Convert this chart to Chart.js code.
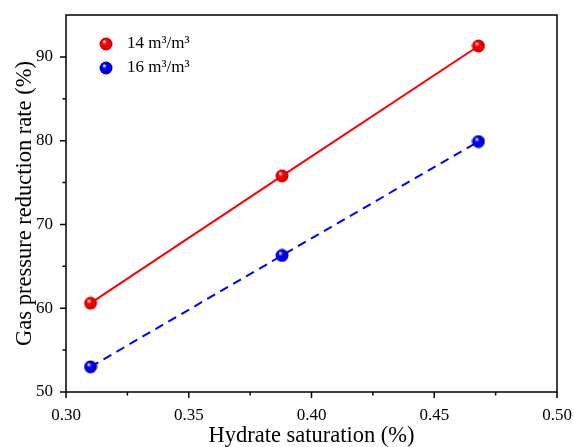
<!DOCTYPE html>
<html>
<head>
<meta charset="utf-8">
<script src="https://cdn.jsdelivr.net/npm/chart.js@4.4.1/dist/chart.umd.min.js"></script>
<style>
html,body{margin:0;padding:0;background:#fff;}
</style>
</head>
<body>
<canvas id="chart" width="574" height="447"></canvas>
<script>
// data
const saturation = [0.310, 0.388, 0.468];
const rate14 = [60.6, 75.8, 91.3];
const rate16 = [53.0, 66.3, 79.9];
const seriesNames = ["14 m³/m³", "16 m³/m³"];
const xRange = [0.30, 0.50];
const yRange = [50, 95];

const FONT = "'Liberation Serif', 'Times New Roman', serif";

// little shaded ball used as marker
function ball(base, dark){
    const c = document.createElement("canvas");
    c.width = c.height = 14;
    const g = c.getContext("2d");
    const grad = g.createRadialGradient(5, 4.5, 0.3, 7, 7, 7);
    grad.addColorStop(0, "#ffffff");
    grad.addColorStop(0.3, base);
    grad.addColorStop(1, dark);
    g.fillStyle = grad;
    g.beginPath();
    g.arc(7, 7, 6.5, 0, Math.PI * 2);
    g.fill();
    return c;
}
const redBall = ball("#ff0000", "#c80000");
const blueBall = ball("#0000ff", "#0000b4");

function toPoints(xs, ys){
    return xs.map((x, i) => ({x: x, y: ys[i]}));
}

function isMajorX(v){ return Math.abs(v * 20 - Math.round(v * 20)) < 1e-6; }
function isMajorY(v){ return Math.abs(v % 10) < 1e-6; }

// frame, outward ticks and legend
const framePlugin = {
    id: "frame",
    afterDraw(chart){
        const ctx = chart.ctx;
        const a = chart.chartArea;
        const xs = chart.scales.x, ys = chart.scales.y;
        ctx.save();
        ctx.strokeStyle = "#000";
        ctx.lineWidth = 1.5;
        ctx.strokeRect(a.left, a.top, a.right - a.left, a.bottom - a.top);
        ctx.beginPath();
        xs.ticks.forEach(t => {
            const px = xs.getPixelForValue(t.value);
            const len = isMajorX(t.value) ? 6 : 3.5;
            ctx.moveTo(px, a.bottom);
            ctx.lineTo(px, a.bottom + len);
        });
        ys.ticks.forEach(t => {
            if (t.value >= yRange[1]) return;
            const py = ys.getPixelForValue(t.value);
            const len = isMajorY(t.value) ? 6 : 3.5;
            ctx.moveTo(a.left, py);
            ctx.lineTo(a.left - len, py);
        });
        ctx.stroke();

        // legend
        const balls = [redBall, blueBall];
        ctx.font = "17px " + FONT;
        ctx.fillStyle = "#000";
        ctx.textBaseline = "middle";
        chart.data.datasets.forEach((ds, i) => {
            const cy = a.top + 29 + i * 24;
            ctx.drawImage(balls[i], a.left + 33, cy - 7);
            ctx.fillText(ds.label, a.left + 61, cy);
        });
        ctx.restore();
    }
};

const ctx = document.querySelector("#chart");

const configChart = {
    type: "scatter",
    data: {
        datasets: [
            {
                label: seriesNames[0],
                data: toPoints(saturation, rate14),
                showLine: true,
                borderColor: "#ff0000",
                borderWidth: 2,
                pointStyle: redBall,
                pointRadius: 7
            },
            {
                label: seriesNames[1],
                data: toPoints(saturation, rate16),
                showLine: true,
                borderColor: "#0000ff",
                borderWidth: 2,
                borderDash: [9, 6],
                pointStyle: blueBall,
                pointRadius: 7
            }
        ]
    },
    options: {
        responsive: false,
        animation: false,
        layout: {padding: {top: 15, right: 17, left: 0, bottom: 0}},
        scales: {
            x: {
                type: "linear",
                min: xRange[0],
                max: xRange[1],
                grid: {display: false, drawTicks: false},
                border: {display: false},
                afterFit: s => {
                    s.height = 55;
                    s.paddingLeft = 0;
                    s.paddingRight = 0;
                },
                ticks: {
                    stepSize: 0.025,
                    padding: 13,
                    color: "#000",
                    font: {family: FONT, size: 17},
                    maxRotation: 0,
                    autoSkip: false,
                    callback: v => isMajorX(v) ? v.toFixed(2) : ""
                },
                title: {
                    display: true,
                    text: "Hydrate saturation (%)",
                    color: "#000",
                    font: {family: FONT, size: 22.5, lineHeight: 1},
                    padding: {top: 0, bottom: 0}
                }
            },
            y: {
                type: "linear",
                min: yRange[0],
                max: yRange[1],
                grid: {display: false, drawTicks: false},
                border: {display: false},
                afterFit: s => {
                    s.width = 66;
                    s.paddingTop = 0;
                    s.paddingBottom = 0;
                },
                ticks: {
                    stepSize: 5,
                    padding: 13,
                    color: "#000",
                    font: {family: FONT, size: 17},
                    autoSkip: false,
                    callback: v => isMajorY(v) && v < yRange[1] ? String(v) : ""
                },
                title: {
                    display: true,
                    text: "Gas pressure reduction rate (%)",
                    color: "#000",
                    font: {family: FONT, size: 22.5, lineHeight: 1},
                    padding: {top: 14, bottom: 0}
                }
            }
        },
        plugins: {
            legend: {display: false},
            tooltip: {enabled: false}
        }
    },
    plugins: [framePlugin]
};

const chart = new Chart(ctx, configChart);
</script>
</body>
</html>
